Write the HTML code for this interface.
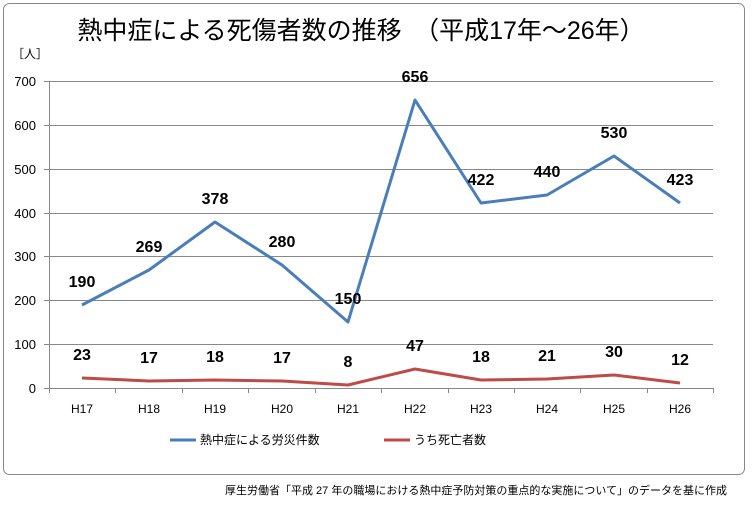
<!DOCTYPE html>
<html><head><meta charset="utf-8"><style>
body{margin:0;background:#fff;}
svg text{font-family:"Liberation Sans","Noto Sans CJK JP",sans-serif;}
</style></head><body>
<svg width="752" height="503" xmlns="http://www.w3.org/2000/svg">
<rect x="3.5" y="3.5" width="741" height="471" rx="6" fill="#fff" stroke="#888" stroke-width="1"/>
<text x="361" y="39" font-size="25" text-anchor="middle" fill="#000">熱中症による死傷者数の推移　（平成17年～26年）</text>
<text x="12" y="58" font-size="12">［人］</text>
<g stroke="#888" stroke-width="1">
<line x1="44" y1="81.5" x2="713" y2="81.5"/>
<line x1="44" y1="125.5" x2="713" y2="125.5"/>
<line x1="44" y1="169.5" x2="713" y2="169.5"/>
<line x1="44" y1="213.5" x2="713" y2="213.5"/>
<line x1="44" y1="256.5" x2="713" y2="256.5"/>
<line x1="44" y1="300.5" x2="713" y2="300.5"/>
<line x1="44" y1="344.5" x2="713" y2="344.5"/>
<line x1="44" y1="388.5" x2="713" y2="388.5"/>
<line x1="49.5" y1="81" x2="49.5" y2="393"/>
</g>
<g stroke="#888"><line x1="49.5" y1="388" x2="49.5" y2="393"/><line x1="115.5" y1="388" x2="115.5" y2="393"/><line x1="182.5" y1="388" x2="182.5" y2="393"/><line x1="248.5" y1="388" x2="248.5" y2="393"/><line x1="315.5" y1="388" x2="315.5" y2="393"/><line x1="381.5" y1="388" x2="381.5" y2="393"/><line x1="448.5" y1="388" x2="448.5" y2="393"/><line x1="514.5" y1="388" x2="514.5" y2="393"/><line x1="580.5" y1="388" x2="580.5" y2="393"/><line x1="647.5" y1="388" x2="647.5" y2="393"/><line x1="713.5" y1="388" x2="713.5" y2="393"/></g>
<g font-size="13" text-anchor="end" fill="#000">
<text x="36" y="86">700</text><text x="36" y="130">600</text><text x="36" y="174">500</text><text x="36" y="218">400</text><text x="36" y="261">300</text><text x="36" y="305">200</text><text x="36" y="349">100</text><text x="36" y="393">0</text>
</g>
<g font-size="12" text-anchor="middle">
<text x="82" y="413">H17</text><text x="149" y="413">H18</text><text x="215" y="413">H19</text><text x="282" y="413">H20</text><text x="348" y="413">H21</text><text x="415" y="413">H22</text><text x="481" y="413">H23</text><text x="547" y="413">H24</text><text x="614" y="413">H25</text><text x="680" y="413">H26</text>
</g>
<polyline fill="none" stroke="#4a7ebb" stroke-width="3" stroke-linejoin="round" points="82,305 149,270 215,222 282,265 348,322 415,100 481,203 547,195 614,156 680,203"/>
<polyline fill="none" stroke="#be4b48" stroke-width="3" stroke-linejoin="round" points="82,378 149,381 215,380 282,381 348,385 415,369 481,380 547,379 614,375 680,383"/>
<g font-size="16" font-weight="bold" text-anchor="middle">
<text x="82" y="287">190</text><text x="149" y="252">269</text><text x="215" y="204">378</text><text x="282" y="247">280</text><text x="348" y="304">150</text><text x="415" y="82">656</text><text x="481" y="185">422</text><text x="547" y="177">440</text><text x="614" y="138">530</text><text x="680" y="185">423</text>
<text x="82" y="360">23</text><text x="149" y="363">17</text><text x="215" y="362">18</text><text x="282" y="363">17</text><text x="348" y="367">8</text><text x="415" y="351">47</text><text x="481" y="362">18</text><text x="547" y="361">21</text><text x="614" y="357">30</text><text x="680" y="365">12</text>
</g>
<line x1="170" y1="440" x2="196" y2="440" stroke="#4a7ebb" stroke-width="3"/>
<text x="200" y="444" font-size="12">熱中症による労災件数</text>
<line x1="384" y1="440" x2="410" y2="440" stroke="#be4b48" stroke-width="3"/>
<text x="414" y="444" font-size="12">うち死亡者数</text>
<text x="727" y="494" font-size="11" text-anchor="end">厚生労働省「平成 27 年の職場における熱中症予防対策の重点的な実施について」のデータを基に作成</text>
</svg>
</body></html>
